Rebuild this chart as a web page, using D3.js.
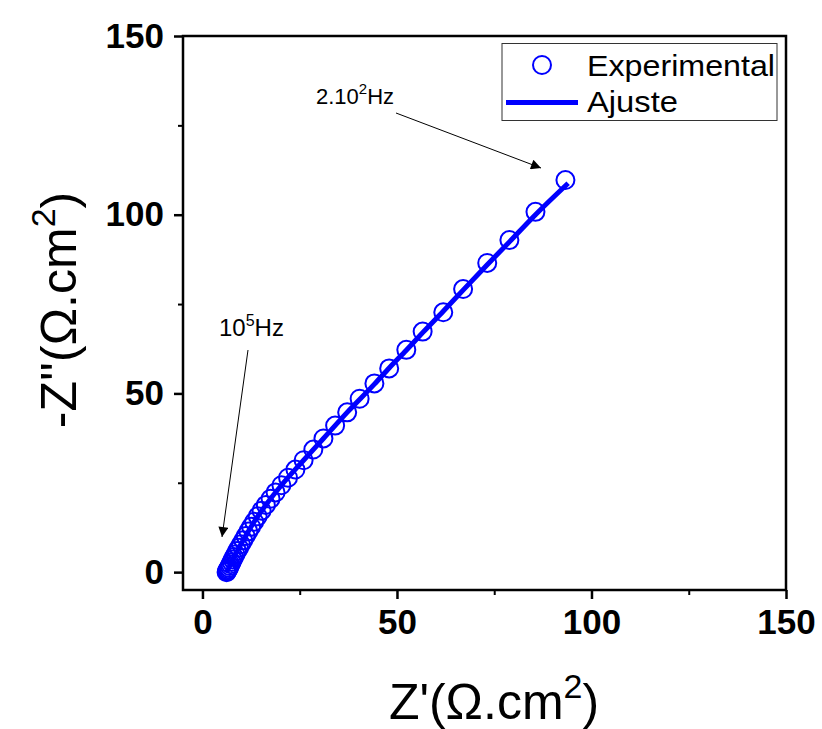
<!DOCTYPE html>
<html>
<head>
<meta charset="utf-8">
<script src="https://cdn.jsdelivr.net/npm/d3@7"></script>
<style>
  body { margin: 0; background: #fff; }
  text { font-family: Arial, "Liberation Sans", sans-serif; }
</style>
</head>
<body>
<script>
// experimental points: [Z', -Z'']
var expX = [93.3, 85.6, 78.9, 73.2, 67.0, 61.9, 56.6, 52.4, 48.0, 44.2, 40.4, 37.2, 34.1, 31.1, 28.5, 26.0, 23.9, 22.0, 20.3, 18.8, 17.5, 16.3, 15.2, 14.2, 13.3, 12.5, 11.8, 11.1, 10.5, 9.9, 9.4, 8.9, 8.5, 8.1, 7.8, 7.5, 7.2, 7.0, 6.8, 6.6, 6.4, 6.3, 6.2];
var expY = [109.7, 100.8, 92.9, 86.5, 79.2, 72.7, 67.3, 62.2, 57.0, 52.8, 48.5, 44.7, 41.0, 37.4, 34.3, 31.3, 28.7, 26.4, 24.3, 22.3, 20.5, 18.8, 17.2, 15.6, 14.1, 12.7, 11.4, 10.1, 8.9, 7.8, 6.8, 5.9, 5.0, 4.2, 3.5, 2.8, 2.2, 1.7, 1.2, 0.8, 0.5, 0.2, 0.0];

// fitted curve
var fitX = [6.2, 6.6, 7.2, 8.1, 9.4, 11.1, 13.3, 16.3, 20.3, 26.0, 31.1, 37.2, 44.2, 48.0, 52.4, 56.6, 61.9, 67.0, 73.2, 78.9, 85.6, 94.0];
var fitY = [0.0, 0.8, 2.2, 4.2, 6.8, 10.1, 14.1, 18.8, 24.3, 31.3, 37.4, 44.7, 52.6, 57.1, 62.1, 67.0, 73.0, 78.9, 86.0, 92.4, 100.0, 108.8];

var majorTicks = [0, 50, 100, 150];
var minorTicks = [25, 75, 125];
var legendLabels = ["Experimental", "Ajuste"];

var W = 822, H = 729;
var margin = {left: 183, top: 36, right: 36, bottom: 139};
var blue = "#0000ff";

var svg = d3.select("body").append("svg")
  .attr("width", W)
  .attr("height", H);

var x = d3.scaleLinear().domain([-5, 150]).range([margin.left, W - margin.right]);
var y = d3.scaleLinear().domain([-5, 150]).range([H - margin.bottom, margin.top]);

// axes
var xAxis = svg.append("g")
  .attr("transform", "translate(0," + y(-5) + ")")
  .call(d3.axisBottom(x).tickValues(majorTicks).tickSize(9).tickPadding(10));
var yAxis = svg.append("g")
  .attr("transform", "translate(" + x(-5) + ",0)")
  .call(d3.axisLeft(y).tickValues(majorTicks).tickSize(9).tickPadding(10));

[xAxis, yAxis].forEach(function(a) {
  a.select(".domain").remove();
  a.selectAll("line").attr("stroke", "#000").attr("stroke-width", 2.5);
  a.selectAll("text")
    .attr("fill", "#000")
    .style("font-size", "35px")
    .style("font-weight", "bold");
});

svg.append("g")
  .attr("transform", "translate(0," + y(-5) + ")")
  .call(d3.axisBottom(x).tickValues(minorTicks).tickSize(5).tickFormat(""))
  .call(function(g) { g.select(".domain").remove(); g.selectAll("line").attr("stroke", "#000").attr("stroke-width", 2); });
svg.append("g")
  .attr("transform", "translate(" + x(-5) + ",0)")
  .call(d3.axisLeft(y).tickValues(minorTicks).tickSize(5).tickFormat(""))
  .call(function(g) { g.select(".domain").remove(); g.selectAll("line").attr("stroke", "#000").attr("stroke-width", 2); });

// frame
svg.append("rect")
  .attr("x", x(-5))
  .attr("y", y(150))
  .attr("width", x(150) - x(-5))
  .attr("height", y(-5) - y(150))
  .attr("fill", "none")
  .attr("stroke", "#000")
  .attr("stroke-width", 2.5);

// fit line
var line = d3.line()
  .x(function(d, i) { return x(fitX[i]); })
  .y(function(d, i) { return y(fitY[i]); })
  .curve(d3.curveMonotoneX);

svg.append("path")
  .datum(fitX)
  .attr("d", line)
  .attr("fill", "none")
  .attr("stroke", blue)
  .attr("stroke-width", 5);

// experimental circles
svg.append("g").selectAll("circle")
  .data(expX)
  .enter()
  .append("circle")
  .attr("cx", function(d) { return x(d); })
  .attr("cy", function(d, i) { return y(expY[i]); })
  .attr("r", 9)
  .attr("fill", "none")
  .attr("stroke", blue)
  .attr("stroke-width", 2);

// legend
var lg = svg.append("g");
lg.append("rect")
  .attr("x", 502).attr("y", 43.5)
  .attr("width", 275).attr("height", 77)
  .attr("fill", "#fff")
  .attr("stroke", "#333")
  .attr("stroke-width", 1);
lg.append("circle")
  .attr("cx", 542).attr("cy", 65).attr("r", 9)
  .attr("fill", "none").attr("stroke", blue).attr("stroke-width", 2);
lg.append("line")
  .attr("x1", 506).attr("x2", 578).attr("y1", 102.5).attr("y2", 102.5)
  .attr("stroke", blue).attr("stroke-width", 5);
lg.selectAll("text.leg")
  .data(legendLabels)
  .enter()
  .append("text")
  .attr("class", "leg")
  .attr("x", 587)
  .attr("y", function(d, i) { return 76 + i * 36; })
  .style("font-size", "30px")
  .attr("textLength", function(d, i) { return i === 0 ? 188 : 91; })
  .attr("lengthAdjust", "spacingAndGlyphs")
  .text(function(d) { return d; });

// axis titles
var xt = svg.append("text")
  .attr("x", 494).attr("y", 719)
  .attr("text-anchor", "middle")
  .style("font-size", "50px");
xt.append("tspan").text("Z'(Ω.cm");
xt.append("tspan").attr("dy", -21).style("font-size", "34px").text("2");
xt.append("tspan").attr("dy", 21).text(")");

var yt = svg.append("text")
  .attr("transform", "translate(76,310) rotate(-90)")
  .attr("text-anchor", "middle")
  .style("font-size", "50px");
yt.append("tspan").text("-Z''(Ω.cm");
yt.append("tspan").attr("dy", -21).style("font-size", "34px").text("2");
yt.append("tspan").attr("dy", 21).text(")");

// annotations
var defs = svg.append("defs");
defs.append("marker")
  .attr("id", "arr")
  .attr("viewBox", "0 0 10 10")
  .attr("refX", 10).attr("refY", 5)
  .attr("markerWidth", 14).attr("markerHeight", 10)
  .attr("markerUnits", "userSpaceOnUse")
  .attr("orient", "auto")
  .append("path")
  .attr("d", "M0,0 L10,5 L0,10 z")
  .attr("fill", "#000");

svg.append("line")
  .attr("x1", 396).attr("y1", 113).attr("x2", 541).attr("y2", 168)
  .attr("stroke", "#000").attr("stroke-width", 1)
  .attr("marker-end", "url(#arr)");
svg.append("line")
  .attr("x1", 248).attr("y1", 350).attr("x2", 222).attr("y2", 537)
  .attr("stroke", "#000").attr("stroke-width", 1)
  .attr("marker-end", "url(#arr)");

var a1 = svg.append("text").attr("x", 316).attr("y", 104).style("font-size", "22px");
a1.append("tspan").text("2.10");
a1.append("tspan").attr("dy", -10).style("font-size", "15px").text("2");
a1.append("tspan").attr("dy", 10).text("Hz");

var a2 = svg.append("text").attr("x", 219).attr("y", 336).style("font-size", "24px");
a2.append("tspan").text("10");
a2.append("tspan").attr("dy", -10).style("font-size", "16px").text("5");
a2.append("tspan").attr("dy", 10).text("Hz");
</script>
</body>
</html>
